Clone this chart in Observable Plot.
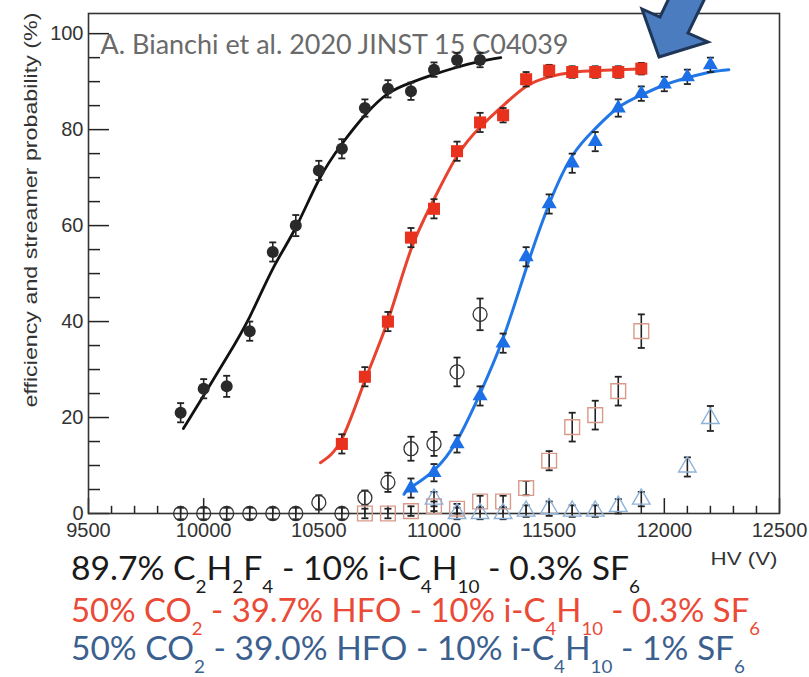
<!DOCTYPE html>
<html><head><meta charset="utf-8">
<script src="https://cdn.jsdelivr.net/npm/d3@7"></script>
<script src="https://cdn.jsdelivr.net/npm/@observablehq/plot@0.6"></script>
<style>
body{margin:0;background:#fff;}
#wrap{position:relative;width:809px;height:677px;overflow:hidden;background:#fff;}
.leg{position:absolute;left:71px;font-family:Lato;font-size:32px;white-space:nowrap;line-height:32px;transform-origin:0 0;}
.leg sub{font-size:18px;vertical-align:baseline;position:relative;top:13px;}
</style></head><body><div id="wrap"></div>
<script>
// ---- data ----
const blackHV  = [9900,10000,10100,10200,10300,10400,10500,10600,10700,10800,10900,11000,11100,11200];
const blackEff = [21,26,26.5,38,54.5,60,71.5,76,84.5,88.5,88,92.5,94.5,94.5];
const blackErr = [2,2,2.2,2,2,2.2,2,2,1.8,1.8,1.8,1.5,1.5,1.5];

const redHV  = [10600,10700,10800,10900,11000,11100,11200,11300,11400,11500,11600,11700,11800,11900];
const redEff = [14.5,28.5,40,57.5,63.5,75.5,81.5,83,90.5,92.3,92,92,92,92.7];
const redErr = [2,2,2,2,2,2,2,1.5,1.5,1.2,1.2,1.2,1.2,1.2];

const blueHV  = [10900,11000,11100,11200,11300,11400,11500,11600,11700,11800,11900,12000,12100,12200];
const blueEff = [5.3,8.5,14.5,24.5,35.5,53.5,64.5,73,77.5,84.5,87.5,89.5,91,93.5];
const blueErr = [2,1.8,1.8,2,2,2,2,2,2,1.8,1.5,1.5,1.5,1.5];

const blackFitHV = [9912,10000,10100,10200,10300,10400,10500,10600,10700,10800,10900,11000,11100,11200,11290];
const blackFit   = [17.7,24.6,32.5,41,51,59.6,69.5,77,83,87.5,89.8,91.5,93,94.2,95];
const redFitHV = [10507,10600,10700,10800,10900,11000,11100,11200,11300,11400,11500,11600,11700,11800,11918];
const redFit   = [10.6,15.5,27.7,40.2,55,65.5,74.5,80.5,85,89,91,91.9,92.3,92.5,92.7];
const blueFitHV = [10870,10900,11000,11100,11200,11300,11400,11500,11600,11700,11800,11900,12000,12100,12200,12280];
const blueFit   = [4,5.4,9,15.2,25,36.5,51,64.5,74.5,80.2,84.6,87.2,89.3,90.8,92,92.5];

// streamer probability (open markers)
const blackStrHV  = [9900,10000,10100,10200,10300,10400,10500,10600,10700,10800,10900,11000,11100,11200];
const blackStr    = [0,0,0,0,0,0,2.3,0,3.3,6.5,13.5,14.5,29.5,41.5];
const blackStrErr = [1.2,1.2,1.2,1.2,1.2,1.2,1.5,1.2,1.5,2,2.5,2.5,3,3.3];
const redStrHV  = [10700,10800,10900,11000,11100,11200,11300,11400,11500,11600,11700,11800,11900];
const redStr    = [0,0,0.5,1.5,1,2.5,2.5,5.3,11,18,20.5,25.5,38];
const redStrErr = [1,1,1,1,1,1.2,1.2,1.5,2,3,3,3,3.5];
const blueStrHV  = [11000,11100,11200,11300,11400,11500,11600,11700,11800,11900,12100,12200];
const blueStr    = [3,0,0,0,0.5,1,0.5,0.5,1.5,3,9.7,19.8];
const blueStrErr = [1.5,1.2,1.2,1.2,1.2,1.5,1.2,1.2,1.5,1.5,2,2.6];

const xMajor = [9500,10000,10500,11000,11500,12000,12500];
const xMinor = d3.range(9600,12500,100).filter(v => v % 500 !== 0);
const yMajor = [0,20,40,60,80,100];
const yMinor = d3.range(5,104,5).filter(v => v % 20 !== 0);

const title = "A. Bianchi et al. 2020 JINST 15 C04039";
const yLabel = "efficiency and streamer probability (%)";
const xLabel = "HV (V)";

// ---- helpers ----
const rows = (hv, v, e) => hv.map((h, i) => ({hv: h, v: v[i], e: e[i]}));
const pts = (hv, v) => hv.map((h, i) => ({hv: h, v: v[i]}));
const cap = {draw(ctx) { ctx.moveTo(-3.5, 0); ctx.lineTo(3.5, 0); }};

const sets = {
  bE: rows(blackHV, blackEff, blackErr),
  rE: rows(redHV, redEff, redErr),
  uE: rows(blueHV, blueEff, blueErr),
  bS: rows(blackStrHV, blackStr, blackStrErr),
  rS: rows(redStrHV, redStr, redStrErr),
  uS: rows(blueStrHV, blueStr, blueStrErr)
};
const allRows = Object.values(sets).flat();

function errBars(data) {
  return [
    Plot.ruleX(data, {x: "hv", y1: d => d.v - d.e, y2: d => d.v + d.e, stroke: "#222", strokeWidth: 1.6}),
    Plot.dot(data, {x: "hv", y: d => d.v + d.e, symbol: cap, stroke: "#222", strokeWidth: 1.8, fill: "none"}),
    Plot.dot(data, {x: "hv", y: d => d.v - d.e, symbol: cap, stroke: "#222", strokeWidth: 1.8, fill: "none"})
  ];
}

const chart = Plot.plot({
  width: 809, height: 677,
  marginTop: 13, marginLeft: 88, marginRight: 30, marginBottom: 164,
  x: {domain: [9500, 12500]},
  y: {domain: [0, 104.2]},
  style: {background: "transparent", overflow: "visible"},
  marks: [
    Plot.ruleY(yMinor, {y: d => d, x1: 9500, x2: 9552, stroke: "#222", strokeWidth: 1.5}),
    Plot.ruleY(yMajor, {y: d => d, x1: 9500, x2: 9591, stroke: "#222", strokeWidth: 1.5}),
    Plot.ruleX(xMinor, {x: d => d, y1: 0, y2: 1.5, stroke: "#222", strokeWidth: 1.5}),
    Plot.ruleX(xMajor, {x: d => d, y1: 0, y2: 3.1, stroke: "#222", strokeWidth: 1.5}),
    Plot.frame({stroke: "#333", strokeWidth: 1.6}),
    Plot.axisX({ticks: xMajor, tickSize: 0, tickPadding: 9, tickFormat: d => String(d), fontSize: 20, fontFamily: "Liberation Sans", color: "#333", label: null}),
    Plot.axisY({ticks: yMajor, tickSize: 0, tickPadding: 5, fontSize: 20, fontFamily: "Liberation Sans", color: "#333", label: null}),
    Plot.text([yLabel], {frameAnchor: "top-left", rotate: -90, textAnchor: "end", dx: -65, dy: -1, fontSize: 19, fontFamily: "Liberation Sans", fill: "#333"}),
    Plot.text([xLabel], {frameAnchor: "bottom-right", textAnchor: "end", dx: -2, dy: 51, fontSize: 18, fontFamily: "Liberation Sans", fill: "#333"}),
    Plot.text([title], {frameAnchor: "top-left", textAnchor: "start", lineAnchor: "bottom", dx: 12, dy: 40, fontSize: 27, fontFamily: "Lato", fill: "#6a6a6a"}),
    // fits
    Plot.line(pts(blackFitHV, blackFit), {x: "hv", y: "v", curve: "natural", stroke: "#111", strokeWidth: 2.8}),
    Plot.line(pts(redFitHV, redFit), {x: "hv", y: "v", curve: "natural", stroke: "#e8432f", strokeWidth: 3}),
    Plot.line(pts(blueFitHV, blueFit), {x: "hv", y: "v", curve: "natural", stroke: "#2277e6", strokeWidth: 3}),
    // error bars
    ...errBars(allRows),
    // streamer (open)
    Plot.dot(sets.bS, {x: "hv", y: "v", r: 7, stroke: "#333", strokeWidth: 1.3, fill: "none"}),
    Plot.dot(sets.rS, {x: "hv", y: "v", symbol: "square", r: 8.3, stroke: "#d99a8a", strokeWidth: 1.4, fill: "none"}),
    Plot.dot(sets.uS, {x: "hv", y: "v", symbol: "triangle", r: 6.5, stroke: "#8fb2d9", strokeWidth: 1.4, fill: "none"}),
    // efficiency (filled)
    Plot.dot(sets.bE, {x: "hv", y: "v", r: 6, fill: "#2a2a2a"}),
    Plot.dot(sets.rE, {x: "hv", y: "v", symbol: "square", r: 6.8, fill: "#e8321e"}),
    Plot.dot(sets.uE, {x: "hv", y: "v", symbol: "triangle", r: 5.6, fill: "#1d6fe6"})
  ]
});

// stretch texts to the reference's (anisotropic) proportions
const stretch = {[yLabel]: 395, [xLabel]: 67, [title]: 468};
for (const t of chart.querySelectorAll("text")) {
  const L = stretch[t.textContent];
  if (L) { t.setAttribute("textLength", L); t.setAttribute("lengthAdjust", "spacingAndGlyphs"); }
}

const wrap = document.getElementById("wrap");
chart.style.position = "absolute";
chart.style.left = "0";
chart.style.top = "0";
wrap.appendChild(chart);

// arrow annotation
const ns = "http://www.w3.org/2000/svg";
const ov = document.createElementNS(ns, "svg");
ov.setAttribute("width", 809); ov.setAttribute("height", 677);
ov.style.position = "absolute"; ov.style.left = "0"; ov.style.top = "0";
const poly = document.createElementNS(ns, "polygon");
poly.setAttribute("points", "659,57 708,42 688,33 706,-4 670,-4 660,17 642,9");
poly.setAttribute("fill", "#4a7cbf");
poly.setAttribute("stroke", "#1e3658");
poly.setAttribute("stroke-width", "3");
ov.appendChild(poly);
wrap.appendChild(ov);

// legend lines
const legends = [
  {html: "89.7% C<sub>2</sub>H<sub>2</sub>F<sub>4</sub> - 10% i-C<sub>4</sub>H<sub>10</sub> - 0.3% SF<sub>6</sub>", color: "#1a1a1a", top: 552, w: 569},
  {html: "50% CO<sub>2</sub> - 39.7% HFO - 10% i-C<sub>4</sub>H<sub>10</sub> - 0.3% SF<sub>6</sub>", color: "#ea4a36", top: 594, w: 689},
  {html: "50% CO<sub>2</sub> - 39.0% HFO - 10% i-C<sub>4</sub>H<sub>10</sub> - 1% SF<sub>6</sub>", color: "#3b5f8e", top: 632, w: 674}
];
for (const l of legends) {
  const d = document.createElement("div");
  d.className = "leg";
  d.innerHTML = l.html;
  d.style.color = l.color;
  d.style.top = l.top + "px";
  wrap.appendChild(d);
  const w = d.getBoundingClientRect().width;
  d.style.transform = `scaleX(${l.w / w})`;
}
</script></body></html>
